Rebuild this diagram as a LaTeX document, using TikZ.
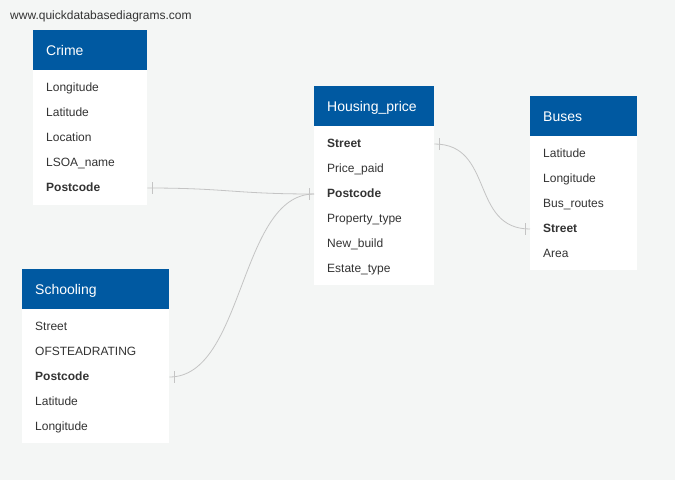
\documentclass[tikz,border=0pt]{standalone}
\usepackage{fontspec}
\setmainfont{Liberation Sans}
\definecolor{bg}{HTML}{F4F6F5}
\definecolor{hdr}{HTML}{0059A1}
\definecolor{txt}{HTML}{333333}
\definecolor{relc}{HTML}{C4C4C4}

\tikzset{
  head/.style={anchor=north west, fill=hdr, text=white, inner xsep=13pt, inner ysep=0pt,
    minimum height=40pt, text width=#1, text height=12pt, text depth=1pt, align=left,
    font=\fontsize{14}{16}\selectfont},
  body/.style={anchor=north west, fill=white, inner sep=0pt},
  row/.style={anchor=west, inner xsep=13pt, inner ysep=0pt, text width=#1, align=left,
    text height=8.6pt, text depth=2.6pt, text=txt, font=\fontsize{12}{14}\selectfont},
  rel/.style={draw=relc, line width=0.8pt},
}

\begin{document}
\begin{tikzpicture}[x=1pt,y=-1pt]
        \fill[bg] (0,0) rectangle (675,480);
        \useasboundingbox (0,0) rectangle (675,480);

        \node[anchor=west, inner sep=0pt, text=txt, font=\fontsize{12}{14}\selectfont] (site) at (10,16) {www.quickdatabasediagrams.com};

        % Crime
        \node[body, minimum width=114pt, minimum height=135pt] (crimeBody) at (33,70) {};
        \node[head=88pt] (crime) at (33,30) {Crime};
        \foreach \f [count=\i] in {Longitude,Latitude,Location,LSOA\_name,\textbf{Postcode}}
                \node[row=88pt] (crime\i) at (33,63+25*\i) {\f};

        % Housing_price
        \node[body, minimum width=120pt, minimum height=160pt] (houseBody) at (314,125) {};
        \node[head=94pt] (house) at (314,86) {Housing\_price};
        \foreach \f [count=\i] in {\textbf{Street},Price\_paid,\textbf{Postcode},Property\_type,New\_build,Estate\_type}
                \node[row=94pt] (house\i) at (314,119+25*\i) {\f};

        % Buses
        \node[body, minimum width=107pt, minimum height=135pt] (busBody) at (530,135) {};
        \node[head=81pt] (bus) at (530,96) {Buses};
        \foreach \f [count=\i] in {Latitude,Longitude,Bus\_routes,\textbf{Street},Area}
                \node[row=81pt] (bus\i) at (530,129+25*\i) {\f};

        % Schooling
        \node[body, minimum width=147pt, minimum height=135pt] (schoolBody) at (22,308) {};
        \node[head=121pt] (school) at (22,269) {Schooling};
        \foreach \f [count=\i] in {Street,OFSTEADRATING,\textbf{Postcode},Latitude,Longitude}
                \node[row=121pt] (school\i) at (22,302+25*\i) {\f};

        % relations
        \draw[rel] (crime5.east) .. controls +(80,0) and +(-80,0) .. (house3.west);
        \draw[rel] (school3.east) .. controls +(75,0) and +(-75,0) .. (house3.west);
        \draw[rel] (house1.east) .. controls +(60,0) and +(-60,0) .. (bus4.west);

        \foreach \n/\s in {crime5.east/5, school3.east/5, house1.east/5, house3.west/-5, bus4.west/-5}
                \draw[rel] ([xshift=\s pt]\n) ++(0,-6) -- ++(0,12);
\end{tikzpicture}
\end{document}
